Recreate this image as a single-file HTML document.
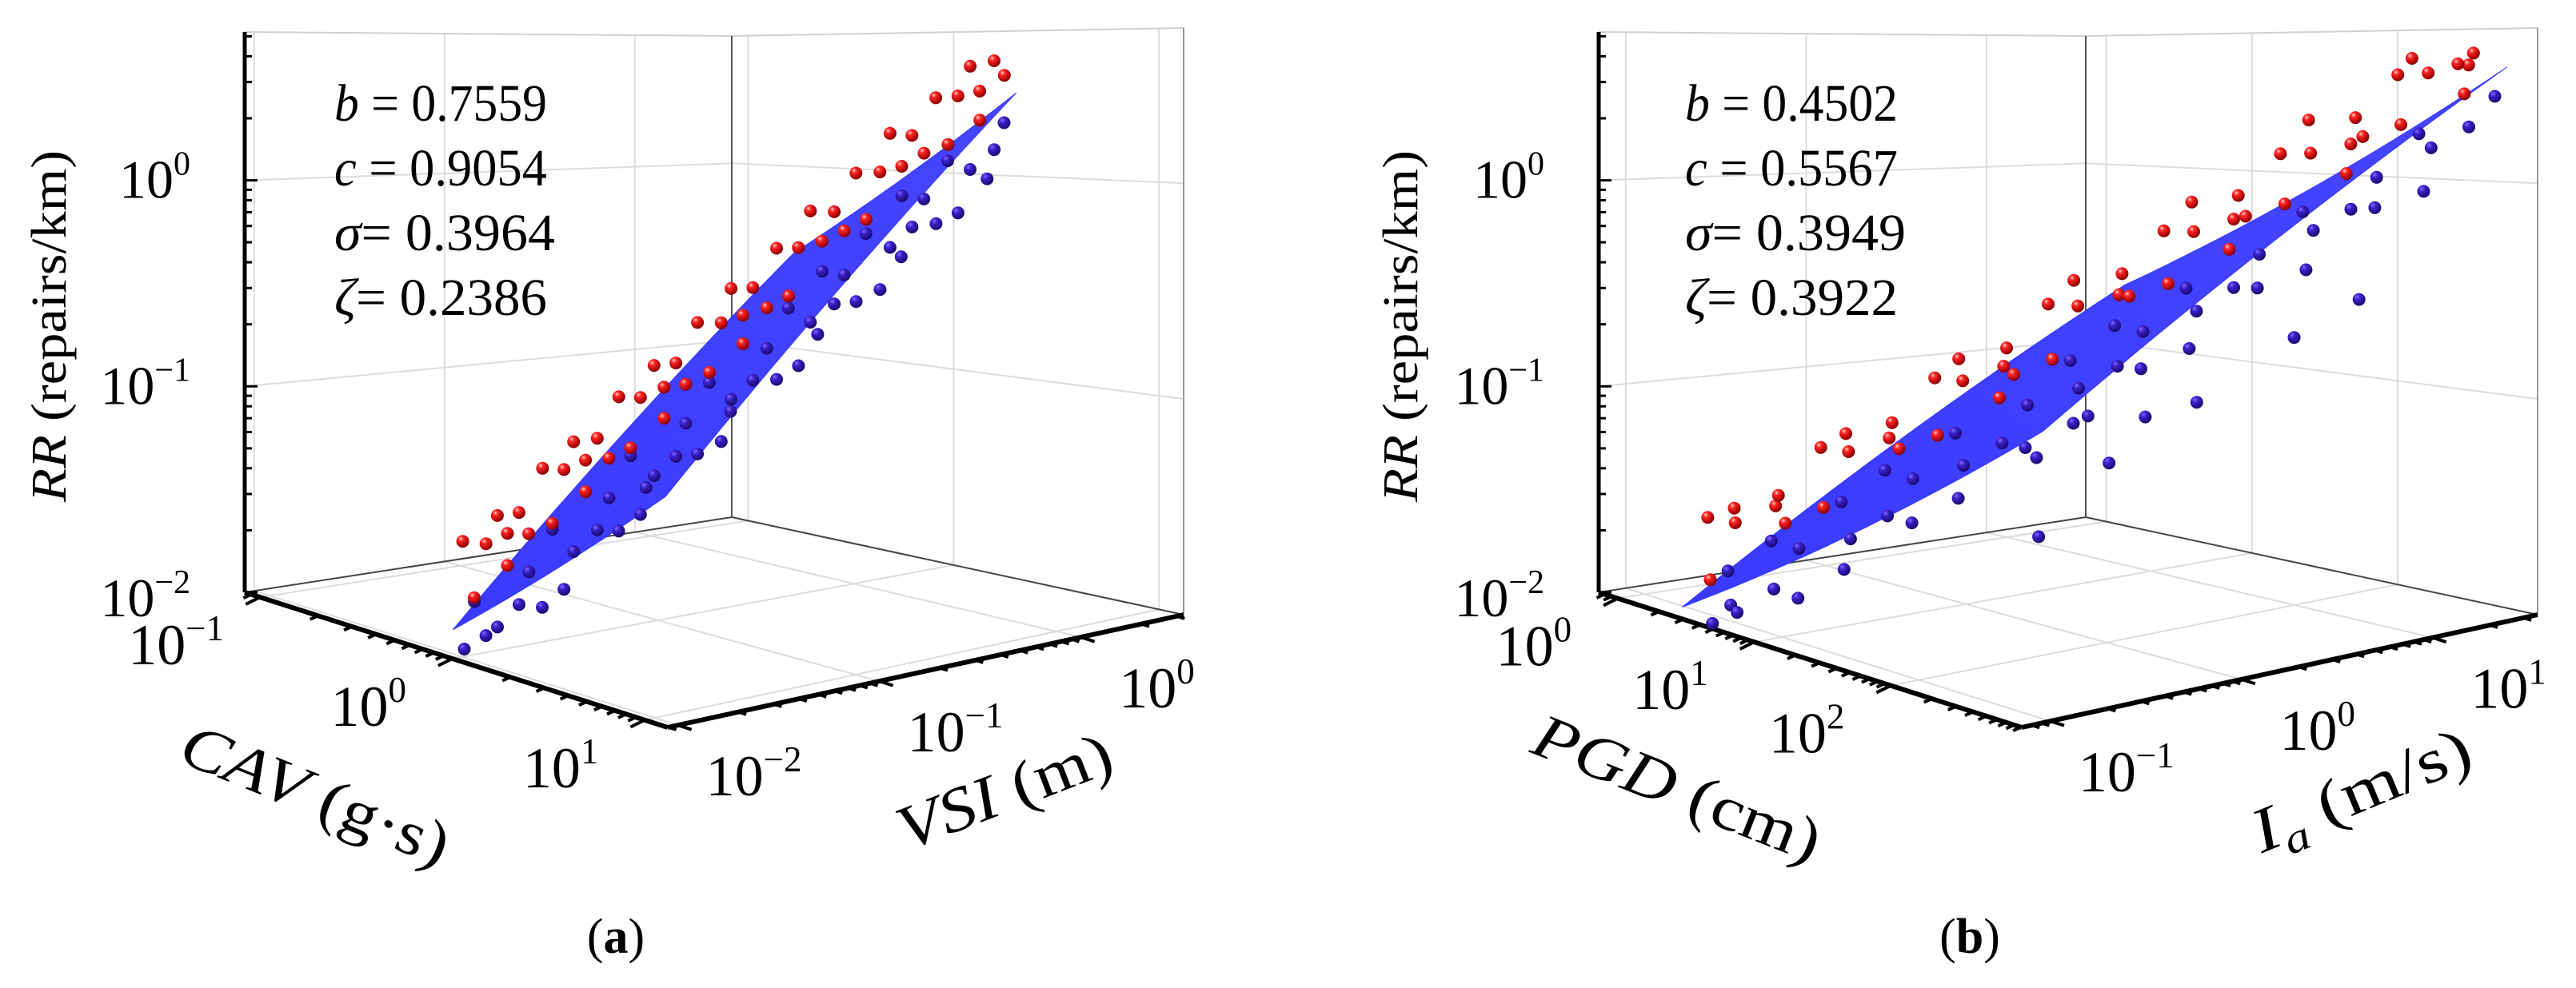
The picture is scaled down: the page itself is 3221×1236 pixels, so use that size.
<!DOCTYPE html>
<html><head><meta charset="utf-8"><title>3D scatter with fitted surfaces</title>
<style>
html,body{margin:0;padding:0;background:#fff;}
svg{display:block;}
svg text{font-family:"Liberation Serif","Times New Roman",serif;}
</style></head>
<body>
<svg id="fig" width="3221" height="1236" viewBox="0 0 3221 1236" xmlns="http://www.w3.org/2000/svg" font-family="Liberation Serif, serif">
<defs>
<radialGradient id="gRed" cx="35%" cy="30%" r="70%"><stop offset="0" stop-color="#ffd0c8"/><stop offset="0.3" stop-color="#f22"/><stop offset="1" stop-color="#8a0000"/></radialGradient>
<radialGradient id="gBlue" cx="35%" cy="30%" r="70%"><stop offset="0" stop-color="#7a6cff"/><stop offset="0.35" stop-color="#3a20c8"/><stop offset="1" stop-color="#1a0a70"/></radialGradient>
<linearGradient id="gSurf" x1="0" y1="1" x2="1" y2="0"><stop offset="0" stop-color="#3a3aff"/><stop offset="1" stop-color="#4646ff"/></linearGradient>
</defs>
<g id="panelA"></g>
<g id="panelB"></g>
</svg>
<script>
// ---------- Panel (a) data: log10 CAV, log10 VSI, log10 RR ----------
const aCav = [-0.28,-0.11,-0.18,0.04,-0.24,-0.07,0.05,-0.12,0.05,-0.03,0.19,-0.09,0.09,0.21,0.03,0.20,0.12,0.35,0.07,0.24,0.36,0.18,0.36,0.28,0.50,0.22,0.39,0.52,0.34,0.51,0.43,0.65,0.38,0.55,0.67,0.49,0.66,0.59,0.81,0.53,0.70,0.82,0.65,0.82,0.74,0.96,0.68,0.86,0.98,
 -0.03,-0.31,-0.13,-0.01,-0.19,-0.02,-0.10,0.13,-0.15,0.02,0.14,-0.04,0.14,0.06,0.28,0.00,0.17,0.30,0.12,0.29,0.21,0.43,0.16,0.33,0.45,0.27,0.44,0.37,0.59,0.31,0.48,0.60,0.43,0.60,0.52,0.74,0.46,0.64,0.76,0.58,0.75,0.67,0.90,0.62,0.79,0.91,0.73,0.91,0.83,
 0.55,0.38,0.22,0.05,-0.12];
const aVsi = [-1.72,-1.83,-1.70,-1.86,-1.53,-1.64,-1.71,-1.47,-1.59,-1.45,-1.62,-1.28,-1.40,-1.46,-1.23,-1.34,-1.21,-1.37,-1.04,-1.15,-1.22,-0.98,-1.10,-0.96,-1.13,-0.79,-0.91,-0.97,-0.74,-0.85,-0.72,-0.88,-0.55,-0.66,-0.73,-0.49,-0.61,-0.47,-0.64,-0.30,-0.42,-0.48,-0.25,-0.36,-0.23,-0.39,-0.06,-0.17,-0.24,
 -1.96,-1.63,-1.75,-1.81,-1.58,-1.69,-1.56,-1.72,-1.39,-1.50,-1.57,-1.33,-1.45,-1.31,-1.48,-1.14,-1.26,-1.32,-1.09,-1.20,-1.07,-1.23,-0.90,-1.01,-1.08,-0.84,-0.96,-0.82,-0.99,-0.65,-0.77,-0.83,-0.60,-0.71,-0.58,-0.74,-0.41,-0.52,-0.59,-0.35,-0.47,-0.33,-0.50,-0.16,-0.28,-0.34,-0.11,-0.22,-0.09,
 0.11,-0.15,-0.41,-0.68,-0.94];
const aRR = [-1.59,-1.79,-1.58,-1.38,-1.57,-1.42,-1.48,-1.25,-1.45,-1.24,-1.05,-1.23,-1.08,-1.14,-0.92,-1.11,-0.91,-0.71,-0.89,-0.74,-0.81,-0.58,-0.77,-0.57,-0.37,-0.56,-0.40,-0.47,-0.24,-0.43,-0.23,-0.03,-0.22,-0.06,-0.13,0.10,-0.09,0.11,0.31,0.12,0.28,0.21,0.44,0.24,0.45,0.60,0.46,0.61,0.55,
 -1.98,-1.89,-1.98,-1.90,-1.70,-1.82,-1.71,-1.79,-1.55,-1.77,-1.56,-1.36,-1.48,-1.37,-1.45,-1.21,-1.43,-1.22,-1.02,-1.15,-1.03,-1.11,-0.87,-1.10,-0.88,-0.68,-0.81,-0.69,-0.78,-0.53,-0.76,-0.54,-0.35,-0.47,-0.36,-0.44,-0.19,-0.42,-0.21,-0.01,-0.13,-0.02,-0.10,0.14,-0.08,0.13,0.33,0.21,0.32,
 0.03,-0.33,-0.69,-1.05,-1.41];
const aCoef = [-0.13, 0.7559, 0.9054];
const aDomX = [-0.2, 0.9];
const aDomY = [-1.85, -0.1];
const aXTicks = [-1, 0, 1];
const aYTicks = [-2, -1, 0];
const aZTicks = [-2, -1, 0];
const aParams = ["b = 0.7559", "c = 0.9054", "σ = 0.3964", "ζ = 0.2386"];

// ---------- Panel (b) data: log10 PGD, log10 Ia, log10 RR ----------
const bPgd = [0.18,0.53,0.38,0.84,0.29,0.64,0.89,0.55,0.90,0.75,1.21,0.66,1.01,1.26,0.92,1.27,1.12,1.57,1.03,1.38,1.63,1.28,1.64,1.49,1.94,1.40,1.75,2.00,1.65,2.01,1.86,2.31,1.76,2.12,2.37,2.02,2.38,2.23,2.68,2.13,2.49,2.74,2.39,2.74,2.60,2.95,2.50,2.86,2.95,
 0.68,0.13,0.48,0.74,0.39,0.74,0.59,1.05,0.50,0.85,1.11,0.76,1.11,0.96,1.42,0.87,1.22,1.47,1.13,1.48,1.33,1.78,1.24,1.59,1.84,1.50,1.85,1.70,2.15,1.61,1.96,2.21,1.86,2.22,2.07,2.52,1.98,2.33,2.58,2.23,2.59,2.44,2.89,2.34,2.70,2.95,2.60,2.96,2.81,
 2.90,2.90,2.90,2.90,2.90,2.90,2.90,2.93];
const bIa = [-0.79,-1.04,-0.79,-1.14,-0.50,-0.75,-0.90,-0.45,-0.70,-0.45,-0.81,-0.16,-0.41,-0.56,-0.11,-0.36,-0.11,-0.47,0.18,-0.07,-0.22,0.23,-0.02,0.23,-0.13,0.52,0.27,0.12,0.57,0.32,0.57,0.22,0.86,0.61,0.46,0.91,0.66,0.91,0.56,1.20,0.95,0.80,1.25,1.00,1.25,0.90,1.54,1.29,1.14,
 -1.14,-0.64,-0.89,-1.05,-0.60,-0.85,-0.60,-0.95,-0.30,-0.55,-0.71,-0.26,-0.51,-0.26,-0.61,0.04,-0.21,-0.37,0.08,-0.17,0.08,-0.27,0.38,0.13,-0.03,0.42,0.17,0.42,0.07,0.72,0.47,0.32,0.76,0.51,0.76,0.41,1.06,0.81,0.66,1.10,0.85,1.10,0.75,1.40,1.15,1.00,1.44,1.19,1.44,
 0.66,0.32,-0.19,-0.46,-0.76,-0.65,-1.03,-1.04];
const bRR = [-1.62,-1.82,-1.61,-1.42,-1.58,-1.44,-1.51,-1.26,-1.46,-1.25,-1.06,-1.23,-1.08,-1.15,-0.91,-1.11,-0.90,-0.71,-0.87,-0.72,-0.80,-0.55,-0.75,-0.54,-0.35,-0.52,-0.37,-0.44,-0.20,-0.40,-0.19,0.00,-0.16,-0.01,-0.08,0.16,-0.04,0.17,0.36,0.19,0.34,0.27,0.52,0.31,0.53,0.62,0.55,0.62,0.58,
 -1.98,-1.91,-1.97,-1.93,-1.72,-1.85,-1.72,-1.82,-1.55,-1.78,-1.57,-1.36,-1.49,-1.37,-1.46,-1.20,-1.43,-1.22,-1.00,-1.14,-1.01,-1.11,-0.84,-1.07,-0.86,-0.65,-0.78,-0.66,-0.75,-0.49,-0.72,-0.51,-0.29,-0.42,-0.30,-0.39,-0.13,-0.36,-0.15,0.06,-0.07,0.05,-0.04,0.23,-0.01,0.21,0.42,0.29,0.41,
 -0.44,-0.57,-0.79,-0.82,-0.78,-0.99,-0.92,-1.24];
const bCoef = [-1.557, 0.4502, 0.5567];
const bDomX = [0.325, 2.96];
const bDomY = [-1.04, 1.39];
const bXTicks = [0, 1, 2];
const bYTicks = [-1, 0, 1];
const bZTicks = [-2, -1, 0];
const bParams = ["b = 0.4502", "c = 0.5567", "σ = 0.3949", "ζ = 0.3922"];

// ---------- geometry ----------
const NS = "http://www.w3.org/2000/svg";
const FONT = '"Liberation Serif", "Times New Roman", serif';
function geom(ox, ur, vr) {
  return {ox:ox, L:[306,741], F:[835,910], R:[1480,769], B:[915,647], HL:701, HF:833, HR:734, HB:602, ur:ur, vr:vr, zr:[-2,0.72]};
}
function P(g,u,v,zf){
  const wL=(1-u)*(1-v), wF=u*(1-v), wR=u*v, wB=(1-u)*v;
  const x=wL*g.L[0]+wF*g.F[0]+wR*g.R[0]+wB*g.B[0];
  const y=wL*g.L[1]+wF*g.F[1]+wR*g.R[1]+wB*g.B[1];
  const H=wL*g.HL+wF*g.HF+wR*g.HR+wB*g.HB;
  return [x+g.ox, y-zf*H];
}
function uS(g,a){return (a-g.ur[0])/(g.ur[1]-g.ur[0]);}
function vS(g,b){return (b-g.vr[0])/(g.vr[1]-g.vr[0]);}
function zS(g,z){return (z-g.zr[0])/(g.zr[1]-g.zr[0]);}
function proj(g,a,b,z){return P(g,uS(g,a),vS(g,b),zS(g,z));}
function mk(parent, tag, attrs){
  const e=document.createElementNS(NS,tag);
  for(const k in attrs) e.setAttribute(k,attrs[k]);
  parent.appendChild(e); return e;
}
function line(parent,p,q,stroke,w){
  return mk(parent,'line',{x1:p[0].toFixed(1),y1:p[1].toFixed(1),x2:q[0].toFixed(1),y2:q[1].toFixed(1),stroke:stroke,'stroke-width':w});
}
function powLabel(parent,x,y,exp,anchor,size){
  const t=mk(parent,'text',{x:x,y:y,'font-size':size,'text-anchor':anchor,fill:'#000','font-family':FONT});
  t.appendChild(document.createTextNode('10'));
  const s=document.createElementNS(NS,'tspan');
  s.setAttribute('font-size',Math.round(size*0.62));
  s.setAttribute('dy',-Math.round(size*0.42));
  s.textContent=(exp<0?'\u2212':'')+Math.abs(exp);
  t.appendChild(s);
  return t;
}
function minorLogs(lo,hi){
  const out=[];
  for(let d=Math.floor(lo);d<=Math.ceil(hi);d++){for(let k=1;k<=9;k++){const v=d+Math.log10(k);if(v>=lo-1e-9&&v<=hi+1e-9) out.push([v,k===1]);}}
  return out;
}

function drawPanel(root, g, X, Y, Z, coef, domX, domY, xt, yt, zt, params, o){
  const grid=mk(root,'g',{});
  
  
  const gc='#dcdcdc';
  zt.forEach(z=>{const zf=zS(g,z); if(z>g.zr[0]){line(grid,P(g,0,0,zf),P(g,0,1,zf),gc,2);line(grid,P(g,0,1,zf),P(g,1,1,zf),gc,2);}});
  xt.forEach(a=>{const u=uS(g,a);line(grid,P(g,u,0,0),P(g,u,1,0),gc,2);line(grid,P(g,u,1,0),P(g,u,1,1),gc,2);});
  yt.forEach(b=>{const v=vS(g,b);line(grid,P(g,0,v,0),P(g,1,v,0),gc,2);line(grid,P(g,0,v,0),P(g,0,v,1),gc,2);});
  line(grid,P(g,0,0,1),P(g,0,1,1),'#d0d0d0',2);
  line(grid,P(g,0,1,1),P(g,1,1,1),'#d0d0d0',2);
  line(grid,P(g,0,0,0),P(g,0,1,0),'#444',2);
  line(grid,P(g,0,1,0),P(g,1,1,0),'#444',2);
  line(grid,P(g,0,1,0),P(g,0,1,1),'#555',2);
  line(grid,P(g,1,1,0),P(g,1,1,1),'#999',2);

  const ax=mk(root,'g',{});
  
  
  const zA=line(ax,P(g,0,0,0),P(g,0,0,1),'#000',5);
  
  
  const xA=line(ax,P(g,0,0,0),P(g,1,0,0),'#000',6);
  
  
  const yA=line(ax,P(g,1,0,0),P(g,1,1,0),'#000',6);
  
  
  minorLogs(g.zr[0],g.zr[1]).forEach(([z,maj])=>{const p=P(g,0,0,zS(g,z));line(ax,p,[p[0]+(maj?16:9),p[1]],'#000',3);});
  const dL=[g.L[0]-g.B[0],g.L[1]-g.B[1]], nL=Math.hypot(dL[0],dL[1]);
  const dF=[g.F[0]-g.L[0],g.F[1]-g.L[1]], nF=Math.hypot(dF[0],dF[1]);
  minorLogs(g.ur[0],g.ur[1]).forEach(([a,maj])=>{const p=P(g,uS(g,a),0,0);const l=maj?18:10;line(ax,p,[p[0]+dL[0]/nL*l,p[1]+dL[1]/nL*l+(maj?6:3)],'#000',4);});
  minorLogs(g.vr[0],g.vr[1]).forEach(([b,maj])=>{const p=P(g,1,vS(g,b),0);const l=maj?18:10;line(ax,p,[p[0]+dF[0]/nF*l,p[1]+dF[1]/nF*l],'#000',4);});

  const tl=mk(root,'g',{});
  
  
  zt.forEach(z=>{const p=P(g,0,0,zS(g,z));const t=powLabel(tl,p[0]-68,p[1]+(z===g.zr[0]?30:22),z,'end',68);
    
    });
  xt.forEach(a=>{const p=P(g,uS(g,a),0,0);const t=powLabel(tl,p[0]-105,p[1]+84,a,'middle',72);
    
    });
  yt.forEach(b=>{const p=P(g,1,vS(g,b),0);const t=powLabel(tl,p[0]+95,p[1]+88,b,'middle',72);
    
    });

  const f=(a,b)=>coef[0]+coef[1]*a+coef[2]*b;
  const pts=[], N=20;
  const edge=(a0,b0,a1,b1)=>{for(let i=0;i<N;i++){const t=i/N;const a=a0+(a1-a0)*t,b=b0+(b1-b0)*t;pts.push(proj(g,a,b,f(a,b)));}};
  edge(domX[0],domY[0],domX[1],domY[0]);
  edge(domX[1],domY[0],domX[1],domY[1]);
  edge(domX[1],domY[1],domX[0],domY[1]);
  edge(domX[0],domY[1],domX[0],domY[0]);
  const surf=mk(root,'polygon',{points:pts.map(p=>p[0].toFixed(1)+','+p[1].toFixed(1)).join(' '),fill:'url(#gSurf)',stroke:'#3535ff','stroke-width':1});
  
  

  const pg=mk(root,'g',{});
  
  
  const idx=X.map((_,i)=>i).sort((i,j)=>Y[j]-Y[i]);
  const below=idx.filter(i=>Z[i]<f(X[i],Y[i])), above=idx.filter(i=>Z[i]>=f(X[i],Y[i]));
  below.forEach(i=>{const p=proj(g,X[i],Y[i],Z[i]);const c=mk(pg,'circle',{cx:p[0].toFixed(1),cy:p[1].toFixed(1),r:8,fill:'url(#gBlue)'});
    
    });
  above.forEach(i=>{const p=proj(g,X[i],Y[i],Z[i]);const c=mk(pg,'circle',{cx:p[0].toFixed(1),cy:p[1].toFixed(1),r:8,fill:'url(#gRed)'});
    
    });

  const ann=mk(root,'g',{});
  
  
  params.forEach((s,i)=>{
    const t=mk(ann,'text',{x:o.annX,y:151+i*81,'font-size':66,fill:'#000','font-family':FONT,textLength:(i===2?276:266),lengthAdjust:'spacingAndGlyphs'});
    
    
    const parts=s.split(' = ');
    const it=document.createElementNS(NS,'tspan');it.setAttribute('font-style','italic');it.textContent=parts[0];t.appendChild(it);
    t.appendChild(document.createTextNode((i<2?' = ':'= ')+parts[1]));
  });
}

const gA=geom(0,[-1.08,1.12],[-2.05,0.51]);
const gB=geom(1693,[-0.14,2.96],[-1.15,1.55]);
drawPanel(document.getElementById('panelA'),gA,aCav,aVsi,aRR,aCoef,aDomX,aDomY,aXTicks,aYTicks,aZTicks,aParams,{annX:418});
drawPanel(document.getElementById('panelB'),gB,bPgd,bIa,bRR,bCoef,bDomX,bDomY,bXTicks,bYTicks,bZTicks,bParams,{annX:2107});

(function(){
  const svg=document.getElementById('fig');
  function title(x,y,rot,size,len,name,html){
    const t=document.createElementNS(NS,'text');
    t.setAttribute('x',x);t.setAttribute('y',y);t.setAttribute('font-size',size);
    t.setAttribute('font-family',FONT);
    t.setAttribute('text-anchor','middle');t.setAttribute('transform','rotate('+rot+' '+x+' '+y+')');
    if(len){t.setAttribute('textLength',len);t.setAttribute('lengthAdjust','spacingAndGlyphs');}
    t.innerHTML=html;
    
    
    svg.appendChild(t);
  }
  title(82,408,-90,62,440,'z-axis-title-a','<tspan font-style="italic">RR</tspan> (repairs/km)');
  title(1772,408,-90,62,440,'z-axis-title-b','<tspan font-style="italic">RR</tspan> (repairs/km)');
  title(385,1018,22,78,355,'x-axis-title-a','<tspan font-style="italic">CAV</tspan> (g·s)');
  title(1265,1014,-21,78,282,'y-axis-title-a','<tspan font-style="italic">VSI</tspan> (m)');
  title(2088,1010,21.5,78,380,'x-axis-title-b','<tspan font-style="italic">PGD</tspan> (cm)');
  title(2962,1012,-22.5,78,290,'y-axis-title-b','<tspan font-style="italic">I</tspan><tspan font-style="italic" font-size="52" dy="16">a</tspan><tspan dy="-16"> (m/s)</tspan>');
  title(770,1192,0,62,0,'caption-a','(<tspan font-weight="bold">a</tspan>)');
  title(2463,1192,0,62,0,'caption-b','(<tspan font-weight="bold">b</tspan>)');
})();
</script>
</body></html>
